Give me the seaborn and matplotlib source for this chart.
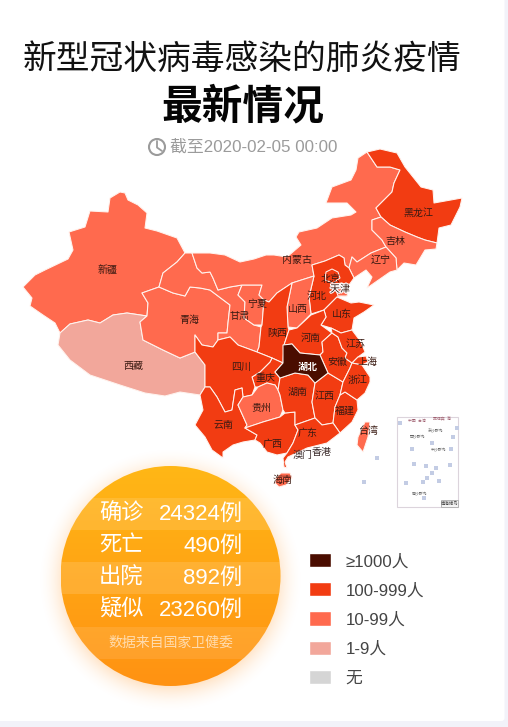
import numpy as np
import pandas as pd
import matplotlib
matplotlib.use("Agg")
import matplotlib.pyplot as plt
from matplotlib.patches import Polygon, Circle, FancyBboxPatch, Rectangle
from matplotlib import patheffects as pe
import seaborn as sns

sns.set_theme(style="white")
CJK = ['Liberation Sans', 'Noto Sans CJK SC', 'DejaVu Sans']
plt.rcParams['font.family'] = CJK

# ---- data ----
title_top = "新型冠状病毒感染的肺炎疫情"
title_main = "最新情况"
subtitle = "截至2020-02-05 00:00"
stat_names = ["确诊", "死亡", "出院", "疑似"]
stat_values = [24324, 490, 892, 23260]
source_note = "数据来自国家卫健委"
legend_labels = ["≥1000人", "100-999人", "10-99人", "1-9人", "无"]
legend_colors = ["#4a0d00", "#f23c12", "#ff6a4e", "#f2a79b", "#d5d5d5"]

# province outlines, in map units
xinjiang = [(120,192),(125,193),(128,200),(138,205),(147,213),(145,228),(157,231),(177,238),(185,253),(177,262),(163,273),(159,287),(142,293),(148,303),(147,316),(127,313),(113,315),(100,323),(88,320),(70,324),(60,333),(55,323),(43,315),(30,306),(32,298),(23,287),(35,275),(45,270),(68,259),(73,250),(69,232),(85,227),(90,211),(108,212),(110,198)]
xizang = [(60,333),(70,324),(88,320),(100,323),(113,315),(127,313),(147,316),(140,322),(143,340),(163,350),(180,358),(195,352),(205,365),(205,387),(200,395),(180,392),(165,396),(145,393),(120,385),(90,375),(70,360),(58,345)]
qinghai = [(142,293),(159,287),(173,293),(185,296),(190,287),(200,288),(210,290),(230,305),(228,323),(227,333),(218,333),(218,340),(213,347),(202,345),(195,335),(195,352),(180,358),(163,350),(143,340),(140,322),(147,316),(148,303)]
gansu = [(185,253),(192,253),(197,268),(202,273),(210,272),(213,278),(218,290),(230,287),(242,285),(238,295),(245,302),(244,318),(254,325),(261,327),(259,347),(257,352),(238,345),(230,337),(218,340),(218,333),(227,333),(228,323),(230,305),(210,290),(200,288),(190,287),(185,296),(173,293),(159,287),(163,273),(177,262)]
ningxia = [(242,285),(262,285),(259,295),(264,300),(262,325),(254,325),(244,318),(245,302),(238,295)]
neimenggu = [(192,253),(210,253),(225,255),(240,262),(254,259),(266,255),(274,255),(287,257),(301,245),(296,237),(299,232),(317,228),(332,218),(351,215),(356,212),(347,203),(334,203),(326,203),(332,187),(351,180),(356,170),(358,158),(367,152),(377,167),(390,167),(400,170),(394,183),(392,192),(376,208),(381,217),(372,220),(372,230),(382,240),(386,247),(371,253),(357,262),(352,257),(349,268),(345,265),(344,258),(339,255),(325,261),(312,265),(314,276),(292,283),(277,293),(269,302),(264,300),(259,295),(262,285),(242,285),(230,287),(218,290),(213,278),(210,272),(202,273),(197,268)]
heilongjiang = [(367,152),(380,149),(397,153),(405,167),(421,187),(433,190),(434,203),(462,198),(460,207),(451,225),(439,228),(437,243),(425,240),(417,237),(405,232),(390,225),(381,217),(376,208),(392,192),(394,183),(400,170),(390,167),(377,167)]
jilin = [(372,220),(381,217),(390,225),(405,232),(417,237),(425,240),(437,243),(436,249),(425,250),(416,265),(404,263),(397,270),(396,258),(386,247),(382,240),(372,230)]
liaoning = [(386,247),(396,258),(397,270),(390,272),(367,288),(372,277),(366,270),(354,278),(349,268),(352,257),(357,262),(371,253)]
hebei = [(312,265),(325,261),(339,255),(344,258),(345,265),(349,268),(354,278),(349,285),(347,296),(337,297),(324,310),(311,314),(309,297),(314,276)]
beijing = [(326,272),(332,269),(338,272),(340,278),(333,283),(325,280)]
tianjin = [(335,284),(342,283),(349,287),(347,296),(338,296),(336,290)]
shanxi = [(292,283),(314,276),(309,297),(311,314),(297,328),(288,327),(287,307)]
shaanxi = [(292,283),(287,307),(288,327),(289,330),(284,345),(283,363),(272,358),(257,352),(259,347),(261,327),(262,325),(264,300),(269,302),(277,293)]
shandong = [(324,310),(337,297),(351,303),(359,302),(374,305),(364,312),(354,318),(352,330),(341,333),(331,328),(321,325),(326,317)]
henan = [(289,330),(297,328),(311,315),(324,310),(326,317),(321,325),(332,333),(322,342),(323,352),(320,355),(300,353),(292,344),(284,345)]
hubei = [(283,345),(292,344),(300,353),(320,355),(328,373),(315,383),(308,375),(295,373),(280,378),(275,372),(283,363)]
chongqing = [(252,377),(260,372),(270,362),(272,358),(283,363),(275,372),(280,378),(278,390),(275,385),(267,383),(258,387),(255,387)]
sichuan = [(195,335),(202,345),(213,347),(218,340),(230,337),(238,345),(257,352),(272,358),(270,362),(260,372),(252,377),(255,387),(252,395),(243,397),(242,388),(235,390),(232,410),(225,412),(217,397),(210,387),(205,387),(205,365),(195,352)]
yunnan = [(200,395),(205,387),(210,387),(217,397),(225,412),(232,410),(235,390),(242,388),(243,397),(238,405),(247,425),(245,428),(257,435),(255,440),(243,442),(233,445),(223,452),(223,458),(212,450),(205,437),(195,425),(203,410)]
guizhou = [(258,387),(267,383),(275,385),(278,390),(280,395),(283,410),(280,417),(263,422),(245,428),(247,425),(238,405),(243,397),(252,395)]
guangxi = [(245,428),(263,422),(280,417),(285,413),(295,412),(295,425),(298,430),(293,443),(287,453),(277,455),(267,452),(260,443),(255,440),(257,435)]
hunan = [(280,378),(295,373),(308,375),(315,383),(312,402),(315,418),(295,425),(295,412),(285,413),(283,410),(280,395),(278,390)]
jiangxi = [(315,383),(328,373),(343,382),(340,395),(335,407),(333,423),(322,425),(315,418),(312,402)]
fujian = [(340,395),(345,392),(357,400),(358,410),(352,422),(340,433),(333,423),(335,407)]
guangdong = [(295,425),(315,418),(322,425),(333,423),(340,433),(327,443),(307,448),(288,457),(285,462),(287,468),(284,467),(283,458),(287,453),(293,443),(298,430)]
hainan = [(276,478),(281,473),(290,473),(292,478),(286,485),(279,487),(275,483)]
anhui = [(322,342),(332,333),(338,337),(342,348),(347,353),(345,358),(352,363),(350,368),(343,382),(328,373),(320,355),(323,352)]
jiangsu = [(331,328),(341,333),(352,330),(361,342),(365,352),(358,357),(352,363),(345,358),(347,353),(342,348),(338,337),(332,333)]
shanghai = [(358,357),(366,356),(368,362),(362,365),(352,363)]
zhejiang = [(352,363),(362,365),(370,377),(370,382),(365,393),(357,400),(345,392),(340,395),(343,382),(350,368)]
taiwan = [(358,437),(365,422),(370,422),(368,437),(363,452),(357,445)]

# name, outline, case class (index into legend), label x, label y
provinces = pd.DataFrame([
    ("新疆", xinjiang, 2, 108, 270), ("西藏", xizang, 3, 133, 366), ("青海", qinghai, 2, 189, 320),
    ("甘肃", gansu, 2, 240, 316), ("宁夏", ningxia, 2, 257, 304), ("内蒙古", neimenggu, 2, 297, 260),
    ("黑龙江", heilongjiang, 1, 419, 213), ("吉林", jilin, 2, 395, 241), ("辽宁", liaoning, 2, 381, 260),
    ("河北", hebei, 1, 317, 296), ("北京", beijing, 1, 331, 279), ("天津", tianjin, 2, 340, 289),
    ("山西", shanxi, 2, 298, 309), ("陕西", shaanxi, 1, 277, 333), ("山东", shandong, 1, 342, 314),
    ("河南", henan, 1, 311, 338), ("重庆", chongqing, 1, 265, 378), ("四川", sichuan, 1, 241, 367),
    ("云南", yunnan, 1, 223, 425), ("贵州", guizhou, 2, 261, 408), ("广西", guangxi, 1, 273, 444),
    ("湖南", hunan, 1, 298, 392), ("江西", jiangxi, 1, 325, 396), ("福建", fujian, 1, 345, 411),
    ("广东", guangdong, 1, 308, 433), ("海南", hainan, 2, 283, 480), ("安徽", anhui, 1, 337, 362),
    ("江苏", jiangsu, 1, 356, 344), ("上海", shanghai, 1, 368, 362), ("浙江", zhejiang, 1, 358, 380),
    ("台湾", taiwan, 2, 368, 431), ("湖北", hubei, 0, 308, 367),
], columns=["name", "outline", "level", "lx", "ly"])
extra_labels = [("澳门", 303, 455), ("香港", 322, 452)]

island_x = [412, 414, 406, 424, 439, 450, 451, 453, 457, 432, 426, 436, 427, 423, 432, 400, 377, 364]
island_y = [449, 464, 483, 498, 481, 465, 449, 437, 428, 443, 466, 468, 478, 482, 473, 423, 458, 482]
inset_names = [("东沙群岛", 436, 430), ("西沙群岛", 418, 436), ("中沙群岛", 438, 449), ("南沙群岛", 420, 493)]

# ---- figure ----
fig = plt.figure(figsize=(5.08, 7.27), dpi=100, facecolor="#f2f2f9")
ax = fig.add_axes([0, 0, 1, 1])
ax.set_xlim(0, 508); ax.set_ylim(727, 0)
ax.set_facecolor("#f2f2f9"); ax.axis("off")
ax.add_patch(FancyBboxPatch((-20, -20), 524.5, 741, boxstyle="round,pad=0,rounding_size=3",
                            fc="white", ec="none", zorder=0))

# titles
ax.text(242.5, 60.5, title_top, fontsize=24.3, ha="center", va="center", color="#111111", zorder=5)
ax.text(242.5, 107, title_main, fontsize=29.3, weight="bold", ha="center", va="center", color="#050505", zorder=5)
ax.text(170, 147, subtitle, fontsize=12.2, ha="left", va="center", color="#9b9b9b", zorder=5)
ax.add_patch(Circle((157, 147), 8, fc="none", ec="#9b9b9b", lw=1.5, zorder=5))
ax.plot([157, 157, 162], [141, 147.5, 151], color="#9b9b9b", lw=1.3, zorder=5)

# provinces
for _, row in provinces.iterrows():
    ax.add_patch(Polygon(row["outline"], closed=True, fc=legend_colors[row["level"]],
                         ec="#fff3ee", lw=0.75, joinstyle="round", zorder=2))
for _, row in provinces.iterrows():
    hub = row["name"] == "湖北"
    t = ax.text(row["lx"], row["ly"], row["name"], fontsize=7.2, ha="center", va="center",
                color="white" if hub else "#3a1a12", weight="bold" if hub else "normal", zorder=4)
    if row["name"] == "天津":
        t.set_path_effects([pe.withStroke(linewidth=1.6, foreground="white")])
for name, x, y in extra_labels:
    ax.text(x, y, name, fontsize=7.2, ha="center", va="center", color="#3a2a2a", zorder=4)

# inset with the South China Sea
ax.add_patch(Rectangle((397, 417), 61, 90, fc="white", ec="#dcd4dc", lw=0.8, zorder=2))
ax.add_patch(Rectangle((441, 500), 17, 7, fc="#f4f4f4", ec="#aaaaaa", lw=0.6, zorder=3))
ax.text(449.5, 503.5, "南海诸岛", fontsize=3.2, ha="center", va="center", color="#444444", zorder=4)
for name, x, y in inset_names:
    ax.text(x, y, name, fontsize=2.8, ha="center", va="center", color="#666666", zorder=4)
ax.text(417, 421, "中国  台湾", fontsize=2.8, ha="center", va="center", color="#a06070", zorder=4)
ax.text(442, 419, "菲律宾  海", fontsize=2.8, ha="center", va="center", color="#a06070", zorder=4)
sns.scatterplot(x=island_x, y=island_y, ax=ax, marker="s", s=5, color="#c3cce4", linewidth=0,
                zorder=3, legend=False)

# disc: glow, gradient and stripes
cx, cy, r = 170.5, 576, 110
gx, gy = np.meshgrid(np.linspace(20, 320, 300), np.linspace(430, 727, 297))
dist = np.hypot(gx - cx, gy - cy - 4)
glow = np.zeros(gx.shape + (4,))
glow[..., :3] = matplotlib.colors.to_rgb("#ff9a30")
glow[..., 3] = 0.32 * np.clip(1 - (dist - r + 6) / 30, 0, 1) ** 2
ax.imshow(glow, extent=(20, 320, 727, 430), zorder=1, aspect="auto", interpolation="bilinear")
ax.set_xlim(0, 508); ax.set_ylim(727, 0)

disc = Circle((cx, cy), r, transform=ax.transData, fc="none", ec="none")
ax.add_patch(disc)
ramp = np.linspace(0, 1, 256)[:, None, None]
top, bottom = np.array(matplotlib.colors.to_rgb("#ffb716")), np.array(matplotlib.colors.to_rgb("#ff9212"))
grad = top * (1 - ramp) + bottom * ramp
im = ax.imshow(grad, extent=(cx - r, cx + r, cy + r, cy - r), zorder=2, aspect="auto")
im.set_clip_path(disc)
ax.set_xlim(0, 508); ax.set_ylim(727, 0)
for y0, y1, a in [(498, 530, 0.12), (530, 562, 0.0), (562, 594, 0.13), (594, 627, 0.0), (627, 659, 0.10)]:
    s = ax.add_patch(Rectangle((cx - r, y0), 2 * r, y1 - y0, fc="white", alpha=a, ec="none", zorder=3))
    s.set_clip_path(disc)

row_y = [514, 546, 578, 610]
for name, value, y in zip(stat_names, stat_values, row_y):
    ax.text(99, y, name, fontsize=16, ha="left", va="center", color="white", zorder=5)
    ax.text(242.5, y, f"{value}例", fontsize=16, ha="right", va="center", color="white", zorder=5)
ax.text(171, 643, source_note, fontsize=10, ha="center", va="center", color="white", alpha=0.62, zorder=5)

# legend as a small seaborn bar chart
H, W = 727, 508
lg = fig.add_axes([309 / W, 1 - 691.5 / H, 22 / W, 146 / H])
sns.barplot(x=[1] * 5, y=legend_labels, hue=legend_labels, palette=legend_colors, saturation=1,
            width=0.48, dodge=False, legend=False, orient="h", ax=lg)
lg.set_xlim(0, 1)
lg.set_facecolor("none")
lg.set_xticks([])
lg.set_xlabel(""); lg.set_ylabel("")
lg.yaxis.tick_right()
lg.tick_params(axis="y", length=0, pad=10.5, labelsize=12.1, labelcolor="#444444")
for side in lg.spines.values():
    side.set_visible(False)

fig.savefig("out.png", dpi=100, facecolor=fig.get_facecolor())
